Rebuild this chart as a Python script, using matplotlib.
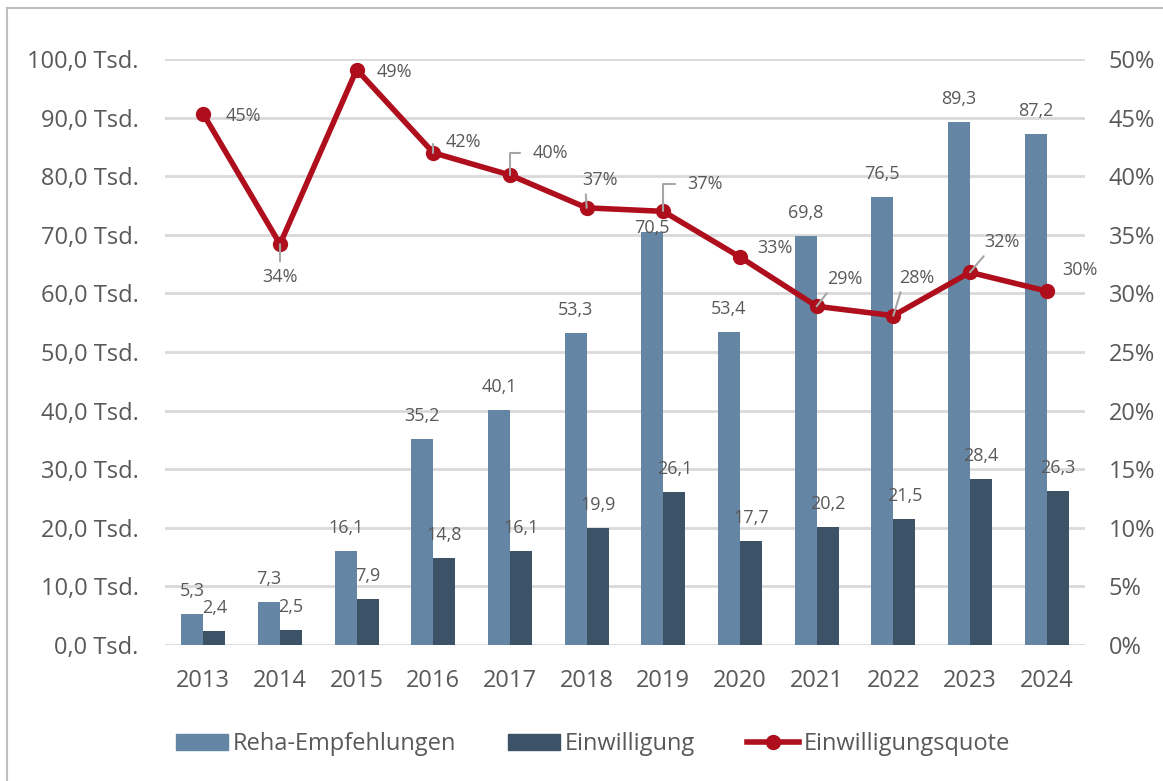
import matplotlib

matplotlib.use("Agg")
import matplotlib.pyplot as plt
from matplotlib.lines import Line2D
from matplotlib.patches import Patch
import numpy as np

plt.rcParams["font.family"] = ["Open Sans", "DejaVu Sans"]

# ---- data ----------------------------------------------------------------------------
years = ["2013", "2014", "2015", "2016", "2017", "2018",
         "2019", "2020", "2021", "2022", "2023", "2024"]
reha_empfehlungen = [5.3, 7.3, 16.1, 35.2, 40.1, 53.3, 70.5, 53.4, 69.8, 76.5, 89.3, 87.2]
einwilligung = [2.4, 2.5, 7.9, 14.8, 16.1, 19.9, 26.1, 17.7, 20.2, 21.5, 28.4, 26.3]
quote_pct = [45.3, 34.2, 49.1, 42.0, 40.1, 37.3, 37.0, 33.1, 28.9, 28.1, 31.8, 30.2]
left_ticks = [0, 10, 20, 30, 40, 50, 60, 70, 80, 90, 100]
right_ticks = [0, 5, 10, 15, 20, 25, 30, 35, 40, 45, 50]

# ---- styling -------------------------------------------------------------------------
C_LIGHT = "#6486A4"
C_DARK = "#3C5367"
C_RED = "#AF0F1C"
C_TEXT = "#595959"
C_GRID = "#D9D9D9"
C_LEADER = "#A6A6A6"

# label offsets for the percentage labels (pixels, y up) and leader style
pct_offsets = [(40, -2), (0, -33), (38, -2), (30, 11), (40, 22), (13, 28),
               (42, 27), (35, 9), (28, 27), (23, 38), (32, 30), (33, 21)]
pct_leaders = ["none", "vert", "none", "elbow", "elbow", "diag",
               "elbow", "none", "diag", "diag", "diag", "none"]


def de(v):
    return f"{v:.1f}".replace(".", ",")


def main() -> None:
    fig = plt.figure(figsize=(11.63, 7.81), dpi=100)
    W, H = 1163, 781
    ax = fig.add_axes([165 / W, 1 - 645 / H, (1085 - 165) / W, (645 - 59) / H])
    ax2 = ax.twinx()

    # outer chart border (top and left visible, rest cropped)
    fig.add_artist(Line2D([7 / W, 7 / W], [0, 1 - 8 / H], transform=fig.transFigure,
                          color="#BFBFBF", lw=1.5))
    fig.add_artist(Line2D([7 / W, 1], [1 - 8 / H, 1 - 8 / H], transform=fig.transFigure,
                          color="#BFBFBF", lw=1.5))

    x = np.arange(len(years))
    bw = 0.287
    b1 = ax.bar(x - bw / 2, reha_empfehlungen, bw, color=C_LIGHT, zorder=2)
    b2 = ax.bar(x + bw / 2, einwilligung, bw, color=C_DARK, zorder=2)

    ax.set_xlim(-0.5, len(years) - 0.5)
    ax.set_ylim(0, 100)
    ax.set_yticks(left_ticks)
    ax.set_yticklabels([f"{de(t)} Tsd." for t in left_ticks])
    ax.set_xticks(x)
    ax.set_xticklabels(years)
    ax.yaxis.grid(True, color=C_GRID, lw=2, zorder=0)
    ax.set_axisbelow(True)
    ax.tick_params(axis="both", length=0, labelsize=17, colors=C_TEXT)
    ax.tick_params(axis="y", pad=19)
    ax.tick_params(axis="x", pad=17)
    for sp in ax.spines.values():
        sp.set_visible(False)

    # bar data labels
    for bars, vals in [(b1, reha_empfehlungen), (b2, einwilligung)]:
        for rect, v in zip(bars, vals):
            dy = 23
            if v == 70.5:
                dy = 4
            ax.annotate(de(v), (rect.get_x() + rect.get_width() / 2, v),
                        xytext=(0, dy), textcoords="offset pixels",
                        ha="center", va="center", fontsize=13, color=C_TEXT, zorder=3)

    # line on secondary axis
    ax2.plot(x, quote_pct, color=C_RED, lw=4, marker="o", markersize=10, zorder=4)
    ax2.set_ylim(0, 50)
    ax2.set_yticks(right_ticks)
    ax2.set_yticklabels([f"{t}%" for t in right_ticks])
    ax2.tick_params(axis="y", length=0, labelsize=17, colors=C_TEXT, pad=17)
    for sp in ax2.spines.values():
        sp.set_visible(False)

    for xi, v, (dx, dy), kind in zip(x, quote_pct, pct_offsets, pct_leaders):
        kw = {}
        if kind == "elbow":
            kw["arrowprops"] = dict(arrowstyle="-", color=C_LEADER, lw=1.5,
                                    shrinkA=7, shrinkB=0, relpos=(0, 0.5),
                                    connectionstyle="angle,angleA=0,angleB=90,rad=0")
        elif kind == "diag":
            kw["arrowprops"] = dict(arrowstyle="-", color=C_LEADER, lw=1.5,
                                    shrinkA=2, shrinkB=0, relpos=(0.1, 0.0))
        elif kind == "vert":
            kw["arrowprops"] = dict(arrowstyle="-", color=C_LEADER, lw=1.5,
                                    shrinkA=3, shrinkB=0, relpos=(0.5, 1.0))
        ax2.annotate(f"{round(v)}%", (xi, v), xytext=(dx, dy), textcoords="offset pixels",
                     ha="center", va="center", fontsize=13, color=C_TEXT, zorder=5, **kw)

    handles = [Patch(color=C_LIGHT), Patch(color=C_DARK),
               Line2D([], [], color=C_RED, lw=4, marker="o", markersize=10)]
    labels = ["Reha-Empfehlungen", "Einwilligung", "Einwilligungsquote"]
    fig.legend(handles, labels, loc="center", bbox_to_anchor=(593 / W, 1 - 744 / H),
               ncol=3, frameon=False, fontsize=17, labelcolor=C_TEXT,
               handlelength=2.2, handletextpad=0.2, columnspacing=2.2,
               handleheight=0.65)

    fig.savefig("out.png", dpi=100)


if __name__ == "__main__":
    main()
